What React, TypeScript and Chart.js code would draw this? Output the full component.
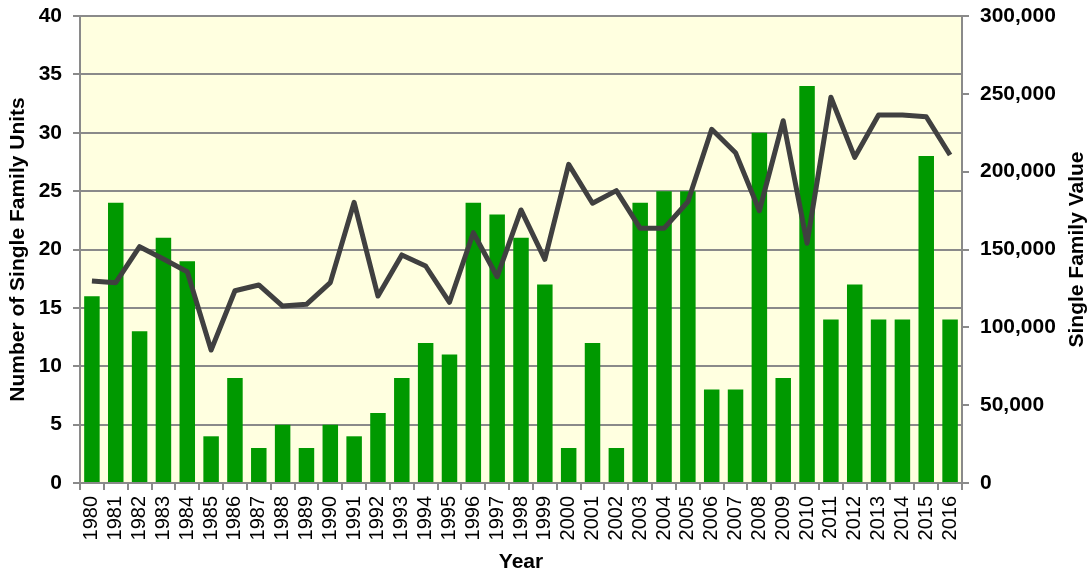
import React, { useEffect, useRef } from 'react';
import { Chart, registerables } from 'chart.js';

Chart.register(...registerables);

const years = [
    '1980', '1981', '1982', '1983', '1984', '1985', '1986', '1987', '1988', '1989',
    '1990', '1991', '1992', '1993', '1994', '1995', '1996', '1997', '1998', '1999',
    '2000', '2001', '2002', '2003', '2004', '2005', '2006', '2007', '2008', '2009',
    '2010', '2011', '2012', '2013', '2014', '2015', '2016',
];

// number of single family units (left axis)
const units = [
    16, 24, 13, 21, 19, 4, 9, 3, 5, 3,
    5, 4, 6, 9, 12, 11, 24, 23, 21, 17,
    3, 12, 3, 24, 25, 25, 8, 8, 30, 9,
    34, 14, 17, 14, 14, 28, 14,
];

// single family value (right axis)
const values = [
    129800, 128700, 151800, 143900, 135700, 85400, 123500, 127200, 113700, 114800,
    128700, 180300, 120100, 146500, 139400, 116100, 160800, 132500, 175400, 143700,
    204700, 179700, 187800, 163600, 163600, 180700, 227200, 212200, 174900, 232700,
    154000, 247800, 209200, 236400, 236400, 235300, 210700,
];

const FONT = '"Liberation Sans", Arial, sans-serif';
const GRID = '#8a8a8a';

const plotBackground = {
    id: 'plotBackground',
    beforeDraw(chart: Chart) {
        const { ctx, chartArea } = chart;
        ctx.save();
        ctx.fillStyle = '#ffffe0';
        ctx.fillRect(chartArea.left, chartArea.top, chartArea.right - chartArea.left, chartArea.bottom - chartArea.top);
        ctx.restore();
    },
};

// right title reads bottom-to-top, which chart.js does not do for a right axis
const rightTitle = {
    id: 'rightTitle',
    afterDraw(chart: Chart) {
        const { ctx, chartArea } = chart;
        ctx.save();
        ctx.translate(1077, (chartArea.top + chartArea.bottom) / 2);
        ctx.rotate(-Math.PI / 2);
        ctx.font = `bold 21px ${FONT}`;
        ctx.fillStyle = '#000';
        ctx.textAlign = 'center';
        ctx.textBaseline = 'middle';
        ctx.fillText('Single Family Value', 0, 0);
        ctx.restore();
    },
};

const App: React.FC = () => {
    const canvasRef = useRef<HTMLCanvasElement | null>(null);

    useEffect(() => {
        document.body.style.margin = '0';
        if (!canvasRef.current) return;
        const ctx = canvasRef.current.getContext('2d');
        if (!ctx) return;

        const myChart = new Chart(ctx, {
            type: 'bar',
            data: {
                labels: years,
                datasets: [
                    {
                        type: 'line',
                        label: 'Single Family Value',
                        data: values,
                        yAxisID: 'y1',
                        borderColor: '#404040',
                        borderWidth: 5,
                        pointRadius: 0,
                        borderJoinStyle: 'round',
                        tension: 0,
                        order: 0,
                    },
                    {
                        type: 'bar',
                        label: 'Number of Single Family Units',
                        data: units,
                        yAxisID: 'y',
                        backgroundColor: '#009900',
                        borderWidth: 0,
                        categoryPercentage: 1,
                        barPercentage: 0.65,
                        order: 1,
                    },
                ],
            },
            options: {
                responsive: false,
                animation: false,
                devicePixelRatio: 1,
                layout: { padding: { top: 16, left: 0, right: 0, bottom: 0 } },
                plugins: {
                    legend: { display: false },
                    tooltip: { enabled: false },
                },
                scales: {
                    x: {
                        afterFit: (scale: any) => {
                            scale.height = 94;
                            scale.paddingLeft = 0;
                            scale.paddingRight = 0;
                        },
                        grid: { display: true, drawOnChartArea: false, drawTicks: true, tickLength: 7, color: GRID, lineWidth: 2, offset: true },
                        border: { display: true, color: GRID, width: 2 },
                        ticks: {
                            autoSkip: false,
                            minRotation: 90,
                            maxRotation: 90,
                            padding: 6,
                            color: '#000',
                            font: { family: FONT, size: 20 },
                        },
                        title: {
                            display: true,
                            text: 'Year',
                            color: '#000',
                            font: { family: FONT, size: 21, weight: 'bold' },
                            padding: { top: 0, bottom: 2 },
                        },
                    },
                    y: {
                        position: 'left',
                        min: 0,
                        max: 40,
                        afterFit: (scale: any) => {
                            scale.width = 80;
                            scale.paddingTop = 0;
                            scale.paddingBottom = 0;
                        },
                        grid: { color: GRID, lineWidth: 2, tickLength: 7 },
                        border: { display: true, color: GRID, width: 2 },
                        ticks: {
                            stepSize: 5,
                            padding: 11,
                            color: '#000',
                            font: { family: FONT, size: 21, weight: 'bold' },
                        },
                        title: {
                            display: true,
                            text: 'Number of Single Family Units',
                            color: '#000',
                            font: { family: FONT, size: 21, weight: 'bold' },
                            padding: { top: 6, bottom: 0 },
                        },
                    },
                    y1: {
                        position: 'right',
                        min: 0,
                        max: 300000,
                        afterFit: (scale: any) => {
                            scale.width = 129;
                            scale.paddingTop = 0;
                            scale.paddingBottom = 0;
                        },
                        grid: { drawOnChartArea: false, color: GRID, lineWidth: 2, tickLength: 7 },
                        border: { display: true, color: GRID, width: 2 },
                        ticks: {
                            stepSize: 50000,
                            padding: 11,
                            color: '#000',
                            font: { family: FONT, size: 21, weight: 'bold' },
                            callback: (v: any) => Number(v).toLocaleString('en-US'),
                        },
                    },
                },
            },
            plugins: [plotBackground, rightTitle],
        });

        return () => {
            myChart.destroy();
        };
    }, []);

    return (
        <div style={{ width: 1091, height: 577 }}>
            <canvas ref={canvasRef} width={1091} height={577} style={{ display: 'block' }} />
        </div>
    );
};

export default App;
